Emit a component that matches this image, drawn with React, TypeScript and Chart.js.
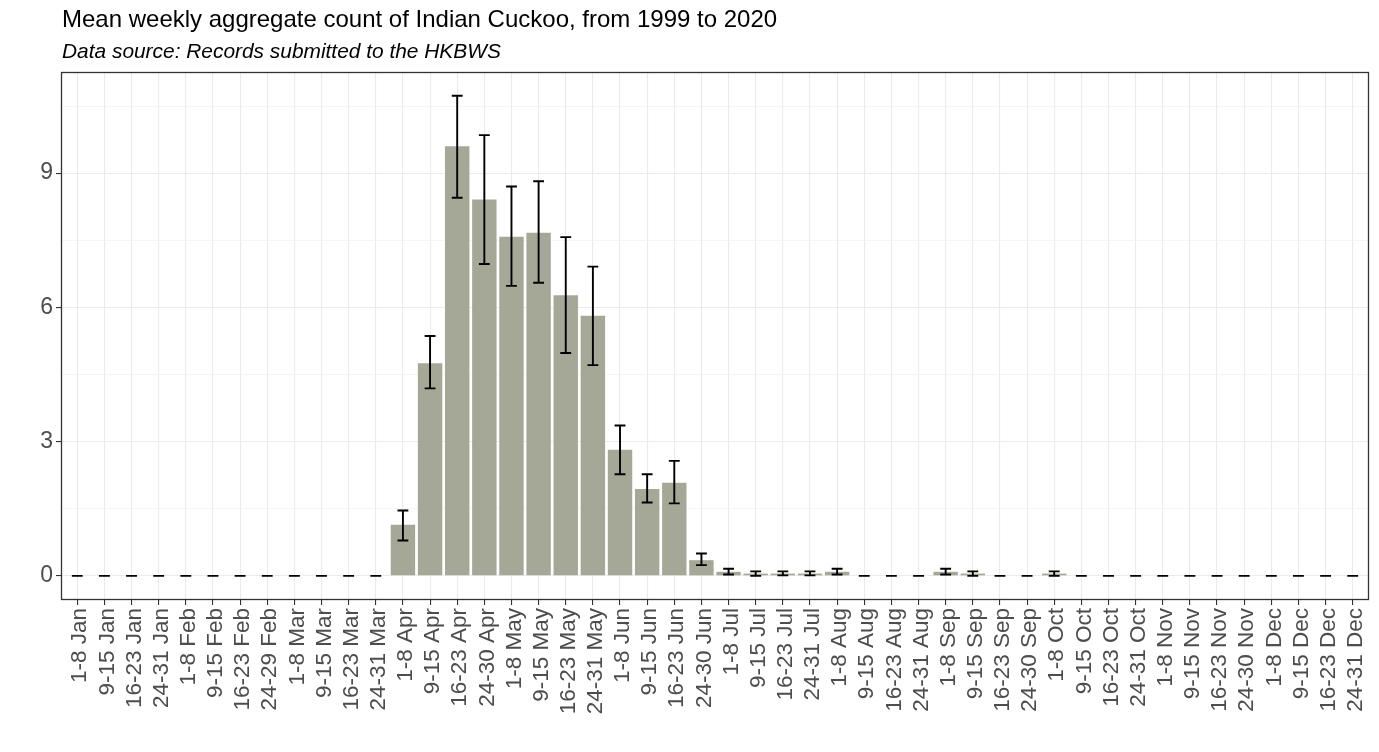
import React, { useEffect, useRef } from "react";
import { Chart, registerables } from "chart.js";

Chart.register(...registerables);

const weekLabels: string[] = [
  "1-8 Jan", "9-15 Jan", "16-23 Jan", "24-31 Jan",
  "1-8 Feb", "9-15 Feb", "16-23 Feb", "24-29 Feb",
  "1-8 Mar", "9-15 Mar", "16-23 Mar", "24-31 Mar",
  "1-8 Apr", "9-15 Apr", "16-23 Apr", "24-30 Apr",
  "1-8 May", "9-15 May", "16-23 May", "24-31 May",
  "1-8 Jun", "9-15 Jun", "16-23 Jun", "24-30 Jun",
  "1-8 Jul", "9-15 Jul", "16-23 Jul", "24-31 Jul",
  "1-8 Aug", "9-15 Aug", "16-23 Aug", "24-31 Aug",
  "1-8 Sep", "9-15 Sep", "16-23 Sep", "24-30 Sep",
  "1-8 Oct", "9-15 Oct", "16-23 Oct", "24-31 Oct",
  "1-8 Nov", "9-15 Nov", "16-23 Nov", "24-30 Nov",
  "1-8 Dec", "9-15 Dec", "16-23 Dec", "24-31 Dec",
];

const meanCount: number[] = [
  0, 0, 0, 0,
  0, 0, 0, 0,
  0, 0, 0, 0,
  1.14, 4.75, 9.6, 8.41,
  7.58, 7.67, 6.27, 5.81,
  2.82, 1.94, 2.08, 0.35,
  0.09, 0.05, 0.05, 0.05,
  0.09, 0, 0, 0,
  0.09, 0.05, 0, 0,
  0.05, 0, 0, 0,
  0, 0, 0, 0,
  0, 0, 0, 0,
];

const lowerCount: number[] = [
  0, 0, 0, 0,
  0, 0, 0, 0,
  0, 0, 0, 0,
  0.79, 4.19, 8.45, 6.97,
  6.48, 6.55, 4.98, 4.71,
  2.27, 1.64, 1.62, 0.24,
  0.03, 0.0, 0.01, 0.01,
  0.03, 0, 0, 0,
  0.03, 0.0, 0, 0,
  0.0, 0, 0, 0,
  0, 0, 0, 0,
  0, 0, 0, 0,
];

const upperCount: number[] = [
  0, 0, 0, 0,
  0, 0, 0, 0,
  0, 0, 0, 0,
  1.46, 5.36, 10.73, 9.85,
  8.7, 8.82, 7.57, 6.91,
  3.36, 2.27, 2.57, 0.5,
  0.16, 0.1, 0.1, 0.1,
  0.16, 0, 0, 0,
  0.16, 0.1, 0, 0,
  0.1, 0, 0, 0,
  0, 0, 0, 0,
  0, 0, 0, 0,
];

const yMajorTicks: number[] = [0, 3, 6, 9];
const yMinorTicks: number[] = [1.5, 4.5, 7.5, 10.5];

const titleText = "Mean weekly aggregate count of Indian Cuckoo, from 1999 to 2020";
const subtitleText = "Data source: Records submitted to the HKBWS";

const FONT = "'Liberation Sans', Arial, Helvetica, sans-serif";

export default function App() {
  const canvasRef = useRef<HTMLCanvasElement | null>(null);

  useEffect(() => {
    document.body.style.margin = "0";
    const canvas = canvasRef.current;
    if (!canvas) return;

    const errorBarPlugin = {
      id: "errorBars",
      afterDatasetsDraw(chart: any) {
        const { ctx, scales } = chart;
        const xs = scales.x;
        const ys = scales.y;
        const half = (xs.getPixelForValue(1) - xs.getPixelForValue(0)) * 0.2;
        ctx.save();
        ctx.strokeStyle = "#000000";
        ctx.lineWidth = 1.9;
        ctx.lineCap = "butt";
        for (let i = 0; i < meanCount.length; i++) {
          const x = xs.getPixelForValue(i);
          const yl = ys.getPixelForValue(lowerCount[i]);
          const yu = ys.getPixelForValue(upperCount[i]);
          ctx.beginPath();
          ctx.moveTo(x, yl);
          ctx.lineTo(x, yu);
          ctx.moveTo(x - half, yl);
          ctx.lineTo(x + half, yl);
          ctx.moveTo(x - half, yu);
          ctx.lineTo(x + half, yu);
          ctx.stroke();
        }
        ctx.restore();
      },
      afterDraw(chart: any) {
        const { ctx, chartArea } = chart;
        ctx.save();
        ctx.strokeStyle = "#333333";
        ctx.lineWidth = 1.3;
        ctx.strokeRect(
          Math.round(chartArea.left) + 0.5,
          Math.round(chartArea.top) + 0.5,
          Math.round(chartArea.right - chartArea.left) - 1,
          Math.round(chartArea.bottom - chartArea.top) - 1
        );
        ctx.fillStyle = "#000000";
        ctx.textAlign = "left";
        ctx.textBaseline = "alphabetic";
        ctx.font = `24px ${FONT}`;
        ctx.fillText(titleText, 62, 27);
        ctx.font = `italic 20.9px ${FONT}`;
        ctx.fillText(subtitleText, 62, 58);
        ctx.restore();
      },
    };

    const chart = new Chart(canvas, {
      type: "bar",
      data: {
        datasets: [
          {
            data: meanCount.map((v, i) => ({ x: i, y: v })),
            backgroundColor: "#A6A897",
            borderWidth: 0,
            barPercentage: 0.9,
            categoryPercentage: 1.0,
          },
        ],
      },
      options: {
        animation: false,
        responsive: false,
        devicePixelRatio: 1,
        layout: { padding: { top: 72, right: 10, bottom: 0, left: 0 } },
        plugins: {
          legend: { display: false },
          tooltip: { enabled: false },
          title: { display: false },
        },
        scales: {
          x: {
            type: "linear",
            offset: false,
            min: -0.6,
            max: weekLabels.length - 1 + 0.6,
            afterBuildTicks(scale: any) {
              scale.ticks = weekLabels.map((_, i) => ({ value: i }));
            },
            afterFit(scale: any) {
              scale.height = 152;
              scale.paddingLeft = 0;
              scale.paddingRight = 0;
            },
            ticks: {
              autoSkip: false,
              maxRotation: 90,
              minRotation: 90,
              padding: 3,
              labelOffset: 3,
              color: "#4D4D4D",
              font: { family: FONT, size: 22.5 },
              callback: (v: any) => weekLabels[Math.round(Number(v))] ?? "",
            },
            grid: {
              offset: false,
              color: "#EBEBEB",
              lineWidth: 1.1,
              tickLength: 5,
              tickColor: "#333333",
              tickWidth: 1.1,
            },
            border: { display: false },
          },
          y: {
            type: "linear",
            min: -0.54,
            max: 11.26,
            afterBuildTicks(scale: any) {
              const all = [...yMajorTicks, ...yMinorTicks].sort((a, b) => a - b);
              scale.ticks = all.map((v) => ({ value: v }));
            },
            afterFit(scale: any) {
              scale.width = 61;
              scale.paddingTop = 0;
              scale.paddingBottom = 0;
            },
            ticks: {
              autoSkip: false,
              padding: 3,
              color: "#4D4D4D",
              font: { family: FONT, size: 23 },
              callback: (v: any) => (yMajorTicks.includes(Number(v)) ? String(v) : ""),
            },
            grid: {
              color: (c: any) => (yMajorTicks.includes(c.tick?.value) ? "#EBEBEB" : "#F2F2F2"),
              lineWidth: (c: any) => (yMajorTicks.includes(c.tick?.value) ? 1.1 : 0.8),
              tickLength: 5,
              tickColor: (c: any) => (yMajorTicks.includes(c.tick?.value) ? "#333333" : "rgba(0,0,0,0)"),
              tickWidth: 1.1,
            },
            border: { display: false },
          },
        },
      },
      plugins: [errorBarPlugin],
    } as any);

    return () => {
      chart.destroy();
    };
  }, []);

  return (
    <div style={{ width: 1379, height: 752, background: "#ffffff" }}>
      <canvas ref={canvasRef} width={1379} height={752} style={{ display: "block" }} />
    </div>
  );
}
